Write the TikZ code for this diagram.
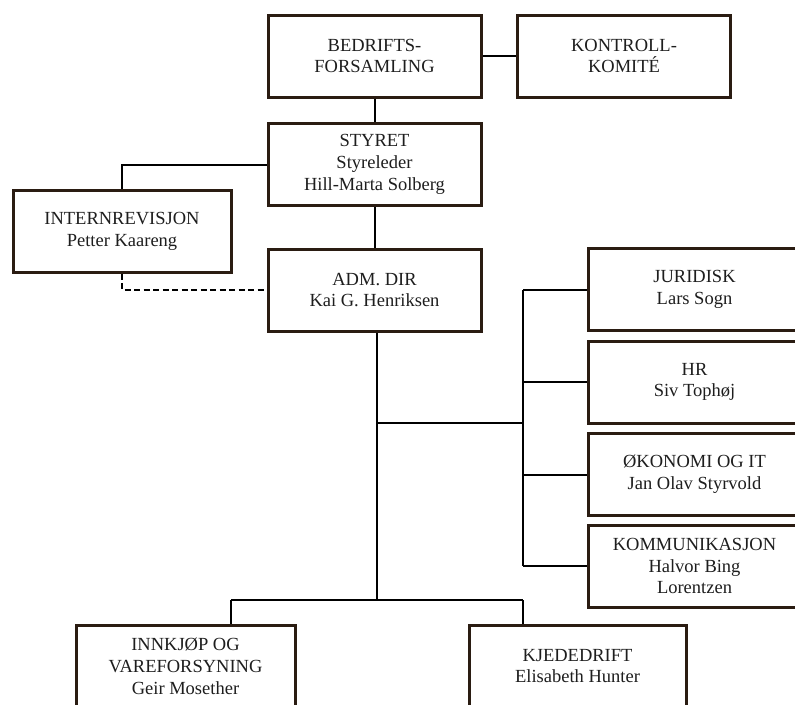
\documentclass[tikz,border=0pt]{standalone}
\usepackage{fontspec}
\setmainfont{Liberation Serif}
\definecolor{boxline}{HTML}{2A1C12}
\definecolor{txt}{HTML}{1E1E1E}
\tikzset{
  box/.style={draw=boxline, line width=3pt, fill=white, rectangle, inner sep=0pt,
    minimum width=213pt, minimum height=82pt, align=center, text=txt,
    font=\fontsize{18.5}{21.8}\selectfont},
  conn/.style={line width=2pt, black},
  dconn/.style={line width=2pt, black, dash pattern=on 6pt off 3.5pt}
}
\begin{document}
\begin{tikzpicture}[x=1pt,y=-1pt]
\useasboundingbox (0,0) rectangle (795,704);
\clip (0,0) rectangle (795,704);
\fill[white] (0,0) rectangle (795,704);
% nodes
\node[box] (bed) at (374.5,56) {BEDRIFTS-\\FORSAMLING};
\node[box] (kon) at (624,56) {KONTROLL-\\KOMITÉ};
\node[box] (sty) at (374.5,164.5) {STYRET\\Styreleder\\Hill-Marta Solberg};
\node[box, minimum width=218pt] (int) at (122,231) {INTERNREVISJON\\Petter Kaareng};
\node[box] (adm) at (374.5,290) {ADM. DIR\\Kai G. Henriksen};
\node[box] (jur) at (694.5,289.5) {JURIDISK\\Lars Sogn};
\node[box] (hr) at (694.5,382) {HR\\Siv Tophøj};
\node[box] (oko) at (694.5,474.5) {ØKONOMI OG IT\\Jan Olav Styrvold};
\node[box] (kom) at (694.5,566) {KOMMUNIKASJON\\Halvor Bing\\Lorentzen};
\node[box, minimum width=219pt] (inn) at (185.5,666) {INNKJØP OG\\VAREFORSYNING\\Geir Mosether};
\node[box, minimum width=217pt] (kje) at (577.5,666) {KJEDEDRIFT\\Elisabeth Hunter};
% coordinates
\coordinate (bot) at (377,600);
\coordinate (bl) at (231,600);
\coordinate (br) at (523,600);
\coordinate (mid) at (377,423);
\coordinate (rv) at (523,423);
\coordinate (rtop) at (523,289.5);
\coordinate (rbot) at (523,566);
% connectors
\begin{scope}[on background layer/.style={}]
\draw[conn] (bed.east) -- (kon.west);
\draw[conn] (bed.south) -- (sty.north);
\draw[conn] (sty.west) -| (int.north);
\draw[dconn] (int.south) |- (adm.west);
\draw[conn] (sty.south) -- (adm.north);
\draw[conn] (adm.south -| bot) -- (bot);
\draw[conn] (bl) -- (br);
\draw[conn] (bl) -- (bl |- inn.north);
\draw[conn] (br) -- (br |- kje.north);
\draw[conn] (mid) -- (rv);
\draw[conn] (rtop) -- (rbot);
\draw[conn] (rtop) -- (jur.west);
\draw[conn] (rtop |- hr.west) -- (hr.west);
\draw[conn] (rtop |- oko.west) -- (oko.west);
\draw[conn] (rbot) -- (kom.west);
\end{scope}
\end{tikzpicture}
\end{document}
